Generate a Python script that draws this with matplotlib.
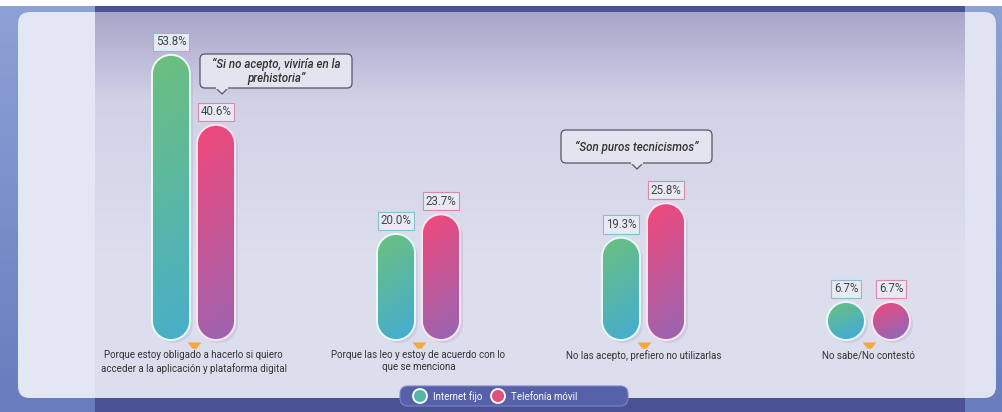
import numpy as np
import matplotlib.pyplot as plt
from matplotlib.patches import Polygon, FancyBboxPatch, Circle
from matplotlib.colors import to_rgb

categories = ["Porque estoy obligado a hacerlo si quiero\nacceder a la aplicación y plataforma digital",
              "Porque las leo y estoy de acuerdo con lo\nque se menciona",
              "No las acepto, prefiero no utilizarlas",
              "No sabe/No contestó"]
internet_fijo = [53.8, 20.0, 19.3, 6.7]
telefonia_movil = [40.6, 23.7, 25.8, 6.7]
series_names = ["Internet fijo", "Telefonía móvil"]
quotes = ["“Si no acepto, viviría en la\nprehistoria”", "“Son puros tecnicismos”"]

FONT = ['Roboto', 'DejaVu Sans']
plt.rcParams['font.family'] = FONT

W, H = 1002, 412
fig = plt.figure(figsize=(W / 100, H / 100), dpi=100)

# ---- background (pixel coords) ----
bg = fig.add_axes([0, 0, 1, 1])
bg.set_xlim(0, W)
bg.set_ylim(H, 0)
bg.axis('off')

img = np.zeros((H, W, 3))
yy = np.linspace(0, 1, H)[:, None]
side_top, side_bot = np.array(to_rgb('#8ea2d6')), np.array(to_rgb('#687cbe'))
side = side_top + (side_bot - side_top) * yy
img[:, :95] = side[:, None, :]
img[:, 965:] = side[:, None, :]
img[:, 95:965] = to_rgb('#4a5194')
img[:6] = 1.0
bg.imshow(img, extent=[0, W, H, 0], aspect='auto', zorder=0)

# card
card = FancyBboxPatch((18, 12), 978, 386, boxstyle='round,pad=0,rounding_size=12',
                      transform=bg.transData, facecolor='none', edgecolor='none')
bg.add_patch(card)
cimg = np.zeros((H, W, 3))
ys = np.arange(H)[:, None]
c_top, c_mid, c_bot = np.array(to_rgb('#a9a5c9')), np.array(to_rgb('#d2d2e7')), np.array(to_rgb('#dcdded'))
t1 = np.clip((ys - 12) / 90, 0, 1)
t2 = np.clip((ys - 102) / 150, 0, 1)
col = np.where(ys < 102, c_top + (c_mid - c_top) * t1, c_mid + (c_bot - c_mid) * t2)
cimg[:, :] = col[:, None, :]
cimg[:, :95] = to_rgb('#e3e6f3')
cimg[:, 965:] = to_rgb('#dfe3f2')
im = bg.imshow(cimg, extent=[0, W, H, 0], aspect='auto', zorder=1)
im.set_clip_path(card)

# ---- main chart axes: x in groups, y in percent ----
PXX, PXY, BASE = 225.0, 5.3, 340.0
X0 = 193.5
ax = fig.add_axes([0, 0, 1, 1], facecolor='none')
ax.set_xlim(-X0 / PXX, (W - X0) / PXX)
ax.set_ylim(-(H - BASE) / PXY, BASE / PXY)
ax.axis('off')

bw = 38 / PXX
rx = bw / 2
ry = 19 / PXY
off = 22.5 / PXX

green_c = ('#6cc07c', '#43acd6')
pink_c = ('#f2487a', '#9267b6')
tri = [(-1, 0.45), (1, 0.45), (0.3, -0.45), (-0.3, -0.45)]


def pill(xc, val, colors, edge):
    top = max(val, 2 * ry)
    t = np.linspace(0, np.pi, 40)
    upper = np.column_stack([xc + rx * np.cos(t), top - ry + ry * np.sin(t)])
    lower = np.column_stack([xc - rx * np.cos(t), ry - ry * np.sin(t)])
    pts = np.vstack([upper, lower])
    sh = Polygon(pts + [3 / PXX, -3 / PXY], closed=True, facecolor='#8a88b0', alpha=0.18,
                 edgecolor='none', zorder=2)
    ax.add_patch(sh)
    poly = Polygon(pts, closed=True, facecolor='none', edgecolor='none', zorder=3)
    ax.add_patch(poly)
    v = np.linspace(0, 1, 100)[:, None]
    h = np.linspace(0, 1, 20)[None, :]
    tt = np.clip(0.8 * v + 0.35 * h * min(1, 60 / (top * PXY)), 0, 1)
    c0, c1 = np.array(to_rgb(colors[0])), np.array(to_rgb(colors[1]))
    grad = c0 + (c1 - c0) * tt[:, :, None]
    g = ax.imshow(grad, extent=[xc - rx, xc + rx, 0, top], aspect='auto', zorder=3,
                  origin='upper')
    g.set_clip_path(poly)
    ax.add_patch(Polygon(pts, closed=True, facecolor='none', edgecolor=edge, lw=1.4, zorder=4))
    return top


for i in range(len(categories)):
    for val, dx, cols, bcol, edge in [(internet_fijo[i], -off, green_c, '#86c0cc', '#e8fbf5'),
                                      (telefonia_movil[i], off, pink_c, '#d98aaa', '#fbe6f0')]:
        top = pill(i + dx, val, cols, edge)
        ax.annotate(f"{val:.1f}%", (i + dx, top), xytext=(0, 9.5), textcoords='offset points',
                    ha='center', va='center', fontsize=8.3, color='#444444', zorder=6,
                    bbox=dict(boxstyle='square,pad=0.22', fc='#e7e9f4', ec=bcol, lw=0.8))
    ax.plot(i, -0.95, marker=tri, markersize=10, color='#f6a93b', markeredgecolor='none', zorder=5)
    ax.text(i, -1.9, categories[i], ha='center', va='top', fontsize=7, color='#333333',
            linespacing=1.3, zorder=6)

# quote bubbles (pixel coords)
QFC, QEC = '#e4e4f0', '#555566'
for q, (bx, by, bw_, bh), px in zip(quotes, [(200, 54, 152, 34), (561, 130, 151, 33)], [222, 637]):
    bg.add_patch(FancyBboxPatch((bx, by), bw_, bh, boxstyle='round,pad=0,rounding_size=5',
                                transform=bg.transData, fc=QFC, ec=QEC, lw=0.9, zorder=7))
    bot = by + bh
    bg.add_patch(Polygon([(px - 6, bot), (px + 6, bot), (px, bot + 6)], closed=True,
                         fc=QFC, ec=QEC, lw=0.9, zorder=8))
    bg.plot([px - 5.2, px + 5.2], [bot, bot], color=QFC, lw=1.6, zorder=9)
    bg.text(bx + bw_ / 2, by + bh / 2 + 0.5, q, ha='center', va='center', fontsize=8.3,
            style='italic', fontweight='medium', color='#333333', zorder=9, linespacing=1.1)

# legend pill (pixel coords)
leg = FancyBboxPatch((400, 386), 228, 20, boxstyle='round,pad=0,rounding_size=8',
                     transform=bg.transData, facecolor='#5661aa', edgecolor='#7b84c4', lw=0.8,
                     zorder=5)
bg.add_patch(leg)
for (cx, tx), name, cc in zip([(420, 433), (498, 511)], series_names, ['#55b7a8', '#e0507e']):
    bg.add_patch(Circle((cx, 396), 7, facecolor=cc, edgecolor='white', lw=1.3, zorder=6))
    bg.text(tx, 396.5, name, ha='left', va='center', fontsize=7, color='white', zorder=6)

fig.savefig('out.png', dpi=100)
